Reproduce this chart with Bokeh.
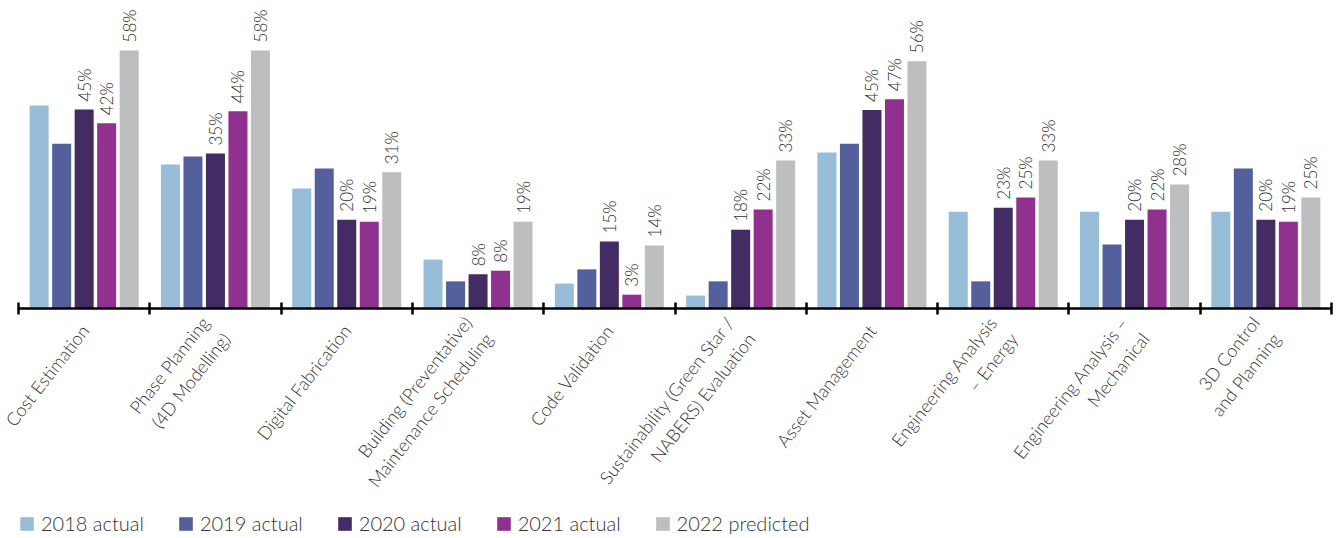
import math
from bokeh.plotting import figure
from bokeh.models import (ColumnDataSource, Range1d, FixedTicker, Legend, LegendItem)
from bokeh.core.properties import value
from bokeh.embed import file_html
from bokeh.resources import INLINE

categories = [
    "Cost Estimation",
    "Phase Planning\n(4D Modelling)",
    "Digital Fabrication",
    "Building (Preventative)\nMaintenance Scheduling",
    "Code Validation",
    "Sustainability (Green Star /\nNABERS) Evaluation",
    "Asset Management",
    "Engineering Analysis\n– Energy",
    "Engineering Analysis –\nMechanical",
    "3D Control\nand Planning",
]

series_names = ["2018 actual", "2019 actual", "2020 actual", "2021 actual", "2022 predicted"]
v2018 = [45.6, 32.3, 26.9, 10.9, 5.5, 2.8, 35.0, 21.7, 21.7, 21.7]
v2019 = [37.0, 34.1, 31.4, 6.0, 8.7, 6.0, 37.0, 6.0, 14.3, 31.4]
v2020 = [44.7, 34.8, 19.9, 7.6, 15.0, 17.6, 44.6, 22.6, 19.9, 19.9]
v2021 = [41.6, 44.3, 19.4, 8.4, 3.0, 22.2, 47.0, 24.9, 22.2, 19.4]
v2022 = [58.0, 58.0, 30.6, 19.4, 14.1, 33.2, 55.6, 33.2, 27.8, 24.9]
labelled = [False, False, True, True, True]
colors = ["#97BDD8", "#54609C", "#432C63", "#90318F", "#BDBEC0"]

FONT = "Lato Light, Lato"
TXT = "#333333"

n = len(categories)
all_vals = [v2018, v2019, v2020, v2021, v2022]
step = 0.1714
bw = 0.1447

# frame covers the whole figure; the axis sits at y = 0 and spans the categories only
PX = 4.44            # pixels per percentage point
CAT = 131.3          # pixels per category
LEFT, TOP, BASE, BOTTOM, WIDTH = 18, 8, 307.5, 536, 1333
p = figure(width=WIDTH, height=BOTTOM, output_backend="svg", toolbar_location=None,
           x_range=Range1d(-LEFT / CAT, (WIDTH - LEFT) / CAT),
           y_range=Range1d(-(BOTTOM - BASE) / PX, (BASE - TOP) / PX),
           y_axis_location=None, min_border_left=0, min_border_right=0,
           min_border_top=TOP, min_border_bottom=0)
p.outline_line_color = None
p.xgrid.visible = False
p.ygrid.visible = False
p.background_fill_color = None
p.border_fill_color = "white"

items = []
for j, (name, vals, col) in enumerate(zip(series_names, all_vals, colors)):
    xs = [i + 0.5 + (j - 2) * step for i in range(n)]
    src = ColumnDataSource(dict(x=xs, top=vals,
                                lab=[f"{round(v):d}%" for v in vals]))
    r = p.vbar(x="x", top="top", bottom=0, width=bw, source=src,
               fill_color=col, line_color=None)
    items.append(LegendItem(label=name, renderers=[r]))
    if labelled[j]:
        p.text(x="x", y="top", text="lab", source=src, angle=math.pi / 2,
               text_align="left", text_baseline="middle", y_offset=-8,
               text_font=value(FONT), text_font_size="17px", text_color=TXT)

ax = p.xaxis[0]
ax.fixed_location = 0
ax.bounds = (0, n)
ax.ticker = FixedTicker(ticks=[i + 0.5 for i in range(n)], minor_ticks=list(range(n + 1)))
ax.major_label_overrides = {i + 0.5: c for i, c in enumerate(categories)}
ax.major_label_orientation = math.radians(52)
ax.major_tick_line_color = None
ax.major_tick_in = 0
ax.major_tick_out = 6
ax.minor_tick_in = 6
ax.minor_tick_out = 6
ax.minor_tick_line_width = 2.5
ax.minor_tick_line_color = "black"
ax.axis_line_width = 2.5
ax.axis_line_color = "black"
ax.major_label_text_font = FONT
ax.major_label_text_font_size = "18px"
ax.major_label_text_color = TXT
ax.major_label_standoff = 13

legend = Legend(items=items, orientation="horizontal", location=(18, 1),
                glyph_width=17, glyph_height=17, label_standoff=6, spacing=33,
                padding=0, margin=0, border_line_color=None,
                background_fill_alpha=0,
                label_text_font=FONT, label_text_font_size="20px",
                label_text_color=TXT)
p.add_layout(legend, "center")

open("out.html", "w").write(file_html(p, INLINE))
